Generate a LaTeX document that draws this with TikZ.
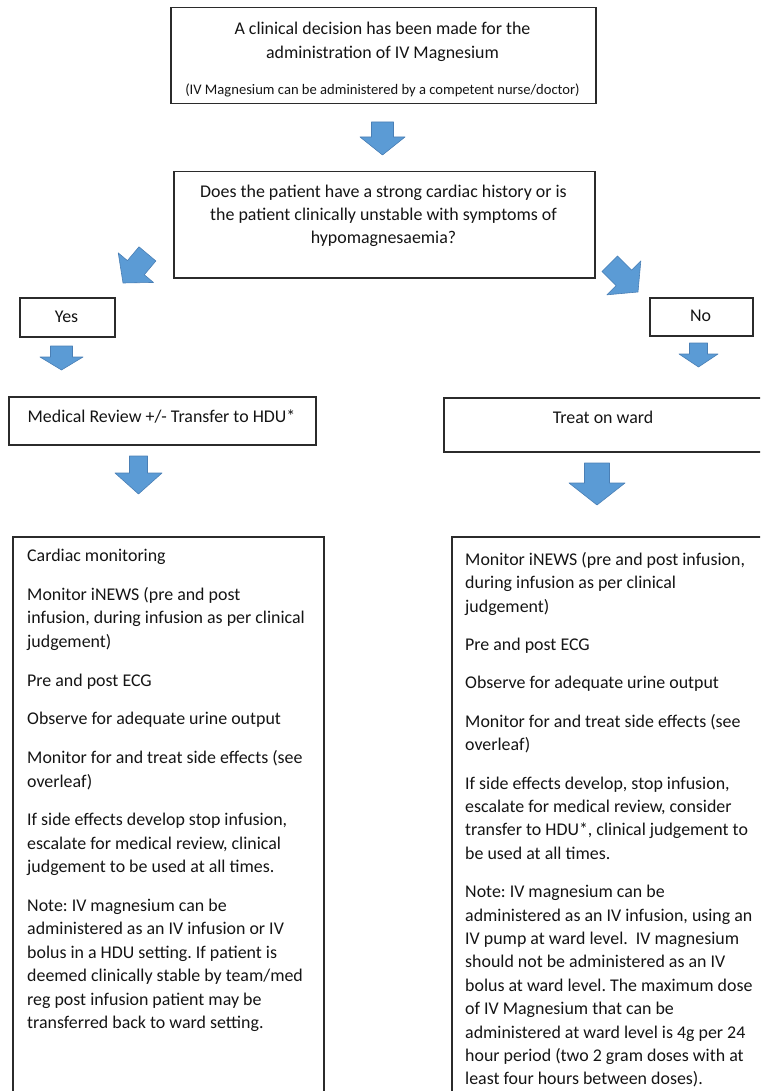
\documentclass[tikz,border=0pt]{standalone}
\usepackage{fontspec}
\setmainfont{Carlito}
\frenchspacing
\definecolor{arrowblue}{HTML}{5B9BD5}
\definecolor{arrowedge}{HTML}{4A7FB5}
\definecolor{boxline}{HTML}{2B2B2B}
\definecolor{textcol}{HTML}{141414}
\tikzset{
  boxnode/.style={draw=boxline, line width=1.5pt, inner sep=0pt, anchor=north west},
  bodytext/.style={inner sep=0pt, anchor=north west, align=left, text=textcol, font=\fontsize{17.9}{23.4}\selectfont},
  centretext/.style={inner sep=0pt, align=center, text=textcol, font=\fontsize{17.9}{23.4}\selectfont},
  smalltext/.style={inner sep=0pt, align=center, text=textcol, font=\fontsize{14.6}{17}\selectfont},
  arrowshape/.style={fill=arrowblue, draw=arrowedge, line width=0.6pt, line join=round},
}
% #1 tip, #2 rotation, #3 half shaft width, #4 half head width, #5 head length, #6 total length
\newcommand\BlockArrow[6]{%
  \filldraw[arrowshape, shift={#1}, rotate=#2]
    (0,0) -- (-#4,-#5) -- (-#3,-#5) -- (-#3,-#6) -- (#3,-#6) -- (#3,-#5) -- (#4,-#5) -- cycle;}
\begin{document}
\begin{tikzpicture}[x=1pt,y=-1pt]
\useasboundingbox (0,0) rectangle (760,1091);
\clip (0,0) rectangle (760,1091);

% boxes
\node[boxnode, minimum width=425pt, minimum height=96pt] (dec) at (170,7) {};
\node[boxnode, minimum width=421pt, minimum height=106pt] (q) at (173,171) {};
\node[boxnode, minimum width=95pt, minimum height=39pt] (yes) at (19,297) {};
\node[boxnode, minimum width=103pt, minimum height=38pt] (no) at (649,297) {};
\node[boxnode, minimum width=307pt, minimum height=48pt] (med) at (8,396) {};
\node[boxnode, minimum width=322pt, minimum height=54pt] (ward) at (443,397) {};
\node[boxnode, minimum width=311pt, minimum height=620pt] (lbox) at (12,536) {};
\node[boxnode, minimum width=330pt, minimum height=620pt] (rbox) at (451,536) {};

% texts
\node[centretext, font=\fontsize{17.9}{24}\selectfont] (dec-t) at (382.5,42)
  {A clinical decision has been made for the\\administration of IV Magnesium};
\node[smalltext] (dec-s) at (382.5,90.5)
  {(IV Magnesium can be administered by a competent nurse/doctor)};
\node[centretext, font=\fontsize{17.9}{23}\selectfont] (q-t) at (383.5,216)
  {Does the patient have a strong cardiac history or is\\
   the patient clinically unstable with symptoms of\\
   hypomagnesaemia?};
\node[centretext] (yes-t) at (66.5,317) {Yes};
\node[centretext] (no-t) at (700.5,316) {No};
\node[centretext] (med-t) at (161.5,417) {Medical Review +/- Transfer to HDU*};
\node[centretext] (ward-t) at (603,417) {Treat on ward};

\node[bodytext] (l-t) at (27,549) {%
Cardiac monitoring\\[15.4pt]
Monitor iNEWS (pre and post\\
infusion, during infusion as per clinical\\
judgement)\\[15.4pt]
Pre and post ECG\\[15.4pt]
Observe for adequate urine output\\[15.4pt]
Monitor for and treat side effects (see\\
overleaf)\\[15.4pt]
If side effects develop stop infusion,\\
escalate for medical review, clinical\\
judgement to be used at all times.\\[15.4pt]
Note: IV magnesium can be\\
administered as an IV infusion or IV\\
bolus in a HDU setting. If patient is\\
deemed clinically stable by team/med\\
reg post infusion patient may be\\
transferred back to ward setting.};

\node[bodytext] (r-t) at (465,552) {%
Monitor iNEWS (pre and post infusion,\\
during infusion as per clinical\\
judgement)\\[15pt]
Pre and post ECG\\[15pt]
Observe for adequate urine output\\[15pt]
Monitor for and treat side effects (see\\
overleaf)\\[15pt]
If side effects develop, stop infusion,\\
escalate for medical review, consider\\
transfer to HDU*, clinical judgement to\\
be used at all times.\\[15pt]
Note: IV magnesium can be\\
administered as an IV infusion, using an\\
IV pump at ward level.\ \ IV magnesium\\
should not be administered as an IV\\
bolus at ward level. The maximum dose\\
of IV Magnesium that can be\\
administered at ward level is 4g per 24\\
hour period (two 2 gram doses with at\\
least four hours between doses).};

% block arrows
\BlockArrow{(382.5,155)}{0}{11}{22.5}{18}{33}
\BlockArrow{(123,283)}{-40}{11}{23}{20}{38}
\BlockArrow{(638,292)}{45}{11}{24}{20}{40}
\BlockArrow{(61.5,370)}{0}{11}{21.5}{13}{24}
\BlockArrow{(698.5,367)}{0}{9}{19.5}{13}{24}
\BlockArrow{(138.5,494)}{0}{9}{23.5}{21}{38}
\BlockArrow{(597,505)}{0}{12.5}{28}{22}{42}
\end{tikzpicture}
\end{document}
